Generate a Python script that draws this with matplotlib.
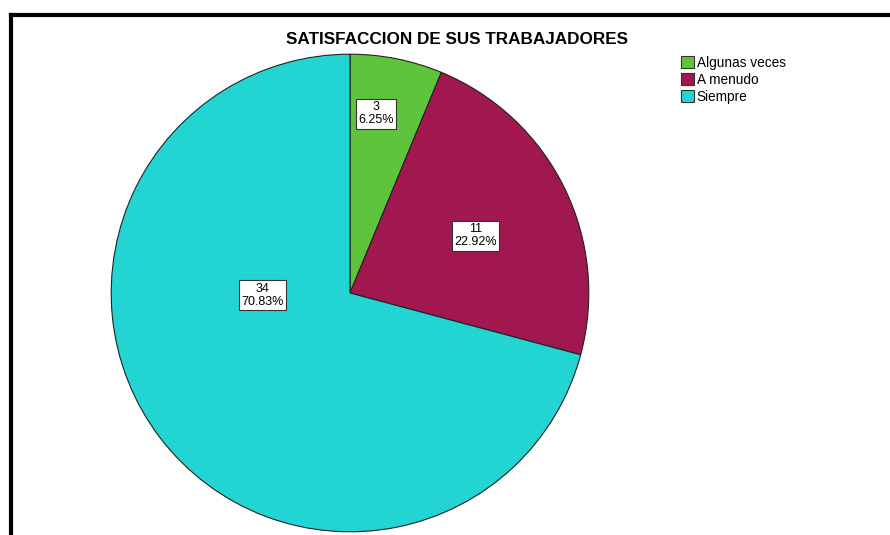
import matplotlib.pyplot as plt
from matplotlib.lines import Line2D
from matplotlib.patches import Patch

plt.rcParams['font.family'] = ['Liberation Sans', 'DejaVu Sans']

categorias = ["Algunas veces", "A menudo", "Siempre"]
frecuencias = [3, 11, 34]
porcentajes = ["6.25%", "22.92%", "70.83%"]
colores = ["#5DC43B", "#A0184F", "#22D5D3"]
# label box positions (relative to pie radius), as placed in the original
pos_etiquetas = [(0.108, 0.75), (0.525, 0.24), (-0.367, -0.01)]

W, H = 890, 535
fig = plt.figure(figsize=(W / 100, H / 100), dpi=100)

# outer frame (only top and left visible in the original)
fig.add_artist(Line2D([11 / W, 11 / W], [0, 1 - 15 / H], color="black", lw=3, transform=fig.transFigure))
fig.add_artist(Line2D([11 / W, 1], [1 - 15 / H, 1 - 15 / H], color="black", lw=3, transform=fig.transFigure))

cx, cy, r = 350, 293, 240
ax = fig.add_axes([(cx - r) / W, (H - cy - r) / H, 2 * r / W, 2 * r / H])
ax.pie(frecuencias, colors=colores, startangle=90, counterclock=False, radius=1,
       wedgeprops=dict(edgecolor="#222222", linewidth=0.8))
ax.set_xlim(-1.005, 1.005)
ax.set_ylim(-1.005, 1.005)
ax.set_aspect("equal")
ax.axis("off")

for n, p, (x, y) in zip(frecuencias, porcentajes, pos_etiquetas):
    ax.text(x, y, f"{n}\n{p}", ha="center", va="center", fontsize=9, linespacing=1.1,
            bbox=dict(boxstyle="square,pad=0.2", fc="white", ec="#333333", lw=0.8))

fig.text(457 / W, 1 - 40 / H, "SATISFACCION DE SUS TRABAJADORES", ha="center", va="center",
         fontsize=12.3, fontweight="bold")

handles = [Patch(facecolor=c, edgecolor="#333333", lw=0.8) for c in colores]
fig.legend(handles, categorias, loc="upper left", bbox_to_anchor=(681 / W, 1 - 56 / H),
           frameon=False, fontsize=9.8, handlelength=0.95, handleheight=0.95,
           handletextpad=0.2, labelspacing=0.22, borderpad=0, borderaxespad=0)

fig.savefig("out.png", dpi=100, facecolor="white")
